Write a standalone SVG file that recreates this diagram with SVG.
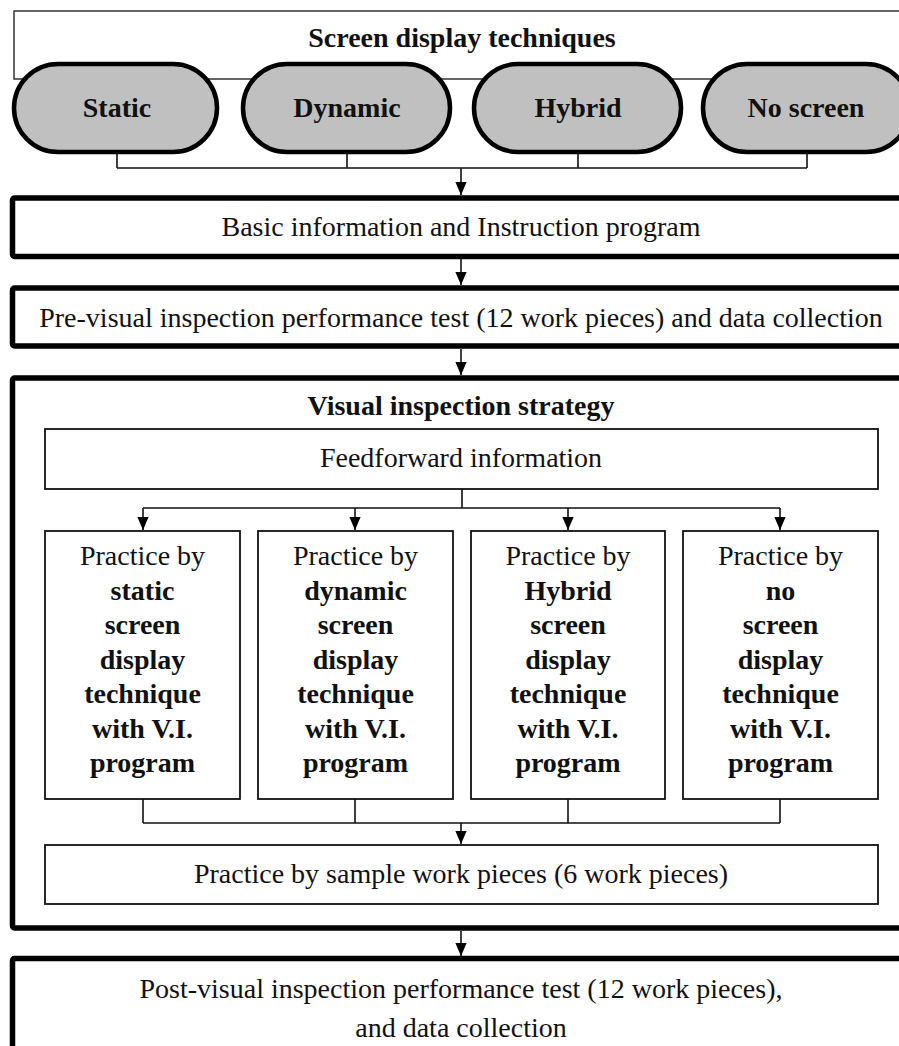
<svg xmlns="http://www.w3.org/2000/svg" width="899" height="1046" viewBox="0 0 899 1046">
<defs>
<marker id="ah" markerWidth="13" markerHeight="15" refX="15" refY="6.5" orient="auto" markerUnits="userSpaceOnUse" viewBox="0 0 15 13">
<path d="M0,0 L15,6.5 L0,13 Z" fill="#000"/>
</marker>
<style>
text{font-family:"Liberation Serif","Times New Roman",serif;font-size:28px;fill:#111;text-anchor:middle}
.b{font-weight:bold}
.thick{fill:#fff;stroke:#000;stroke-width:5.5}
.thin{fill:#fff;stroke:#111;stroke-width:1.8}
.pill{fill:#c0c0c0;stroke:#000;stroke-width:4.5}
.c{fill:none;stroke:#111;stroke-width:1.6}
</style>
</defs>
<rect width="899" height="1046" fill="#fff"/>
<g id="screen-techniques">
<rect x="14" y="11" width="900" height="68" fill="#fff" stroke="#333" stroke-width="1.5"/>
<text class="b" x="462" y="47">Screen display techniques</text>
</g>
<g id="static"><rect class="pill" x="14" y="64" width="203" height="88" rx="44"/><text class="b" x="117" y="117">Static</text></g>
<g id="dynamic"><rect class="pill" x="243" y="64" width="207" height="88" rx="44"/><text class="b" x="347" y="117">Dynamic</text></g>
<g id="hybrid"><rect class="pill" x="474" y="64" width="207" height="88" rx="44"/><text class="b" x="578" y="117">Hybrid</text></g>
<g id="noscreen"><rect class="pill" x="703" y="64" width="207" height="88" rx="44"/><text class="b" x="806" y="117">No screen</text></g>
<g id="basic"><rect class="thick" x="12.5" y="198" width="900" height="58.5" rx="2"/><text x="461" y="236">Basic information and Instruction program</text></g>
<g id="pre"><rect class="thick" x="12.5" y="288" width="900" height="58" rx="2"/><text x="461" y="327">Pre-visual inspection performance test (12 work pieces) and data collection</text></g>
<g id="strategy"><rect class="thick" x="12.5" y="378" width="900" height="550" rx="2"/><text class="b" x="461" y="415">Visual inspection strategy</text></g>
<g id="feedforward"><rect class="thin" x="45" y="429" width="833" height="60"/><text x="461" y="467">Feedforward information</text></g>
<g id="p-static"><rect class="thin" x="45" y="531" width="195" height="268"/>
<text x="142.5" y="565">Practice by</text>
<text class="b" x="142.5" y="599.5">static</text><text class="b" x="142.5" y="634">screen</text><text class="b" x="142.5" y="668.5">display</text><text class="b" x="142.5" y="703">technique</text><text class="b" x="142.5" y="737.5">with V.I.</text><text class="b" x="142.5" y="772">program</text></g>
<g id="p-dynamic"><rect class="thin" x="258" y="531" width="195" height="268"/>
<text x="355.5" y="565">Practice by</text>
<text class="b" x="355.5" y="599.5">dynamic</text><text class="b" x="355.5" y="634">screen</text><text class="b" x="355.5" y="668.5">display</text><text class="b" x="355.5" y="703">technique</text><text class="b" x="355.5" y="737.5">with V.I.</text><text class="b" x="355.5" y="772">program</text></g>
<g id="p-hybrid"><rect class="thin" x="471" y="531" width="194" height="268"/>
<text x="568" y="565">Practice by</text>
<text class="b" x="568" y="599.5">Hybrid</text><text class="b" x="568" y="634">screen</text><text class="b" x="568" y="668.5">display</text><text class="b" x="568" y="703">technique</text><text class="b" x="568" y="737.5">with V.I.</text><text class="b" x="568" y="772">program</text></g>
<g id="p-noscreen"><rect class="thin" x="683" y="531" width="195" height="268"/>
<text x="780.5" y="565">Practice by</text>
<text class="b" x="780.5" y="599.5">no</text><text class="b" x="780.5" y="634">screen</text><text class="b" x="780.5" y="668.5">display</text><text class="b" x="780.5" y="703">technique</text><text class="b" x="780.5" y="737.5">with V.I.</text><text class="b" x="780.5" y="772">program</text></g>
<g id="sample"><rect class="thin" x="45" y="845" width="833" height="59"/><text x="461" y="883">Practice by sample work pieces (6 work pieces)</text></g>
<g id="post"><rect class="thick" x="12.5" y="958.5" width="900" height="120" rx="2"/>
<text x="461" y="998">Post-visual inspection performance test (12 work pieces),</text>
<text x="461" y="1037">and data collection</text></g>
<g id="connectors">
<path class="c" d="M117,152 V168 M347,152 V168 M578,152 V168 M807,152 V168 M117,168 H807"/>
<path class="c" d="M461,168 V195" marker-end="url(#ah)"/>
<path class="c" d="M461,259 V285" marker-end="url(#ah)"/>
<path class="c" d="M461,349 V375" marker-end="url(#ah)"/>
<path class="c" d="M462,489 V508 M143,508 H780"/>
<path class="c" d="M143,508 V530" marker-end="url(#ah)"/>
<path class="c" d="M355,508 V530" marker-end="url(#ah)"/>
<path class="c" d="M568,508 V530" marker-end="url(#ah)"/>
<path class="c" d="M780,508 V530" marker-end="url(#ah)"/>
<path class="c" d="M143,799 V823 M355,799 V823 M568,799 V823 M780,799 V823 M143,823 H780"/>
<path class="c" d="M461,823 V844" marker-end="url(#ah)"/>
<path class="c" d="M461,931 V956" marker-end="url(#ah)"/>
</g>
</svg>
